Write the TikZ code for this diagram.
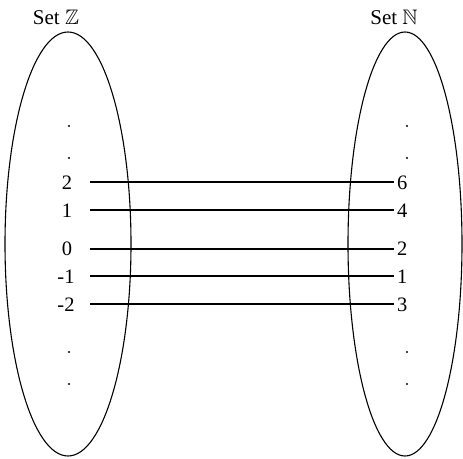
\documentclass[tikz,border=0pt]{standalone}
\usepackage{amssymb}
\usepackage{fontspec}
\setmainfont{Liberation Serif}
\begin{document}
\begin{tikzpicture}[x=1pt,y=-1pt,
  setline/.style={line width=1.1pt},
  mapline/.style={line width=1.1pt},
  lab/.style={font=\fontsize{20.5}{22}\selectfont, inner sep=0pt},
  ttl/.style={font=\fontsize{21}{23}\selectfont, inner sep=0pt},
  dotmark/.style={circle, fill=black, inner sep=0pt, minimum size=2.2pt}]
\useasboundingbox (0,0) rectangle (463,458);
% sets
\draw[setline] (68,244) ellipse [x radius=63, y radius=212];
\draw[setline] (405,244) ellipse [x radius=57, y radius=212];
% titles
\node[ttl] (tz) at (56,17) {Set $\mathbb{Z}$};
\node[ttl] (tn) at (394,17) {Set $\mathbb{N}$};
% left labels
\node[lab] (z2) at (67,183) {2};
\node[lab] (z1) at (67,211) {1};
\node[lab] (z0) at (67,249) {0};
\node[lab] (zm1) at (66,277) {-1};
\node[lab] (zm2) at (66,305) {-2};
% right labels
\node[lab,anchor=west] (n6) at (397,183) {6};
\node[lab,anchor=west] (n4) at (397,211) {4};
\node[lab,anchor=west] (n2) at (397,249) {2};
\node[lab,anchor=west] (n1) at (397,277) {1};
\node[lab,anchor=west] (n3) at (397,305) {3};
% dots
\node[dotmark] (dl1) at (69,126) {};
\node[dotmark] (dl2) at (69,158) {};
\node[dotmark] (dl3) at (69,352) {};
\node[dotmark] (dl4) at (69,384) {};
\node[dotmark] (dr1) at (407,126) {};
\node[dotmark] (dr2) at (407,158) {};
\node[dotmark] (dr3) at (407,352) {};
\node[dotmark] (dr4) at (407,384) {};
% connectors
\coordinate (s1) at (90,182); \coordinate (e1) at (394,182);
\coordinate (s2) at (90,210); \coordinate (e2) at (394,210);
\coordinate (s3) at (90,249); \coordinate (e3) at (394,249);
\coordinate (s4) at (90,276); \coordinate (e4) at (394,276);
\coordinate (s5) at (90,304); \coordinate (e5) at (394,304);
\draw[mapline] (s1) -- (e1);
\draw[mapline] (s2) -- (e2);
\draw[mapline] (s3) -- (e3);
\draw[mapline] (s4) -- (e4);
\draw[mapline] (s5) -- (e5);
\end{tikzpicture}
\end{document}
